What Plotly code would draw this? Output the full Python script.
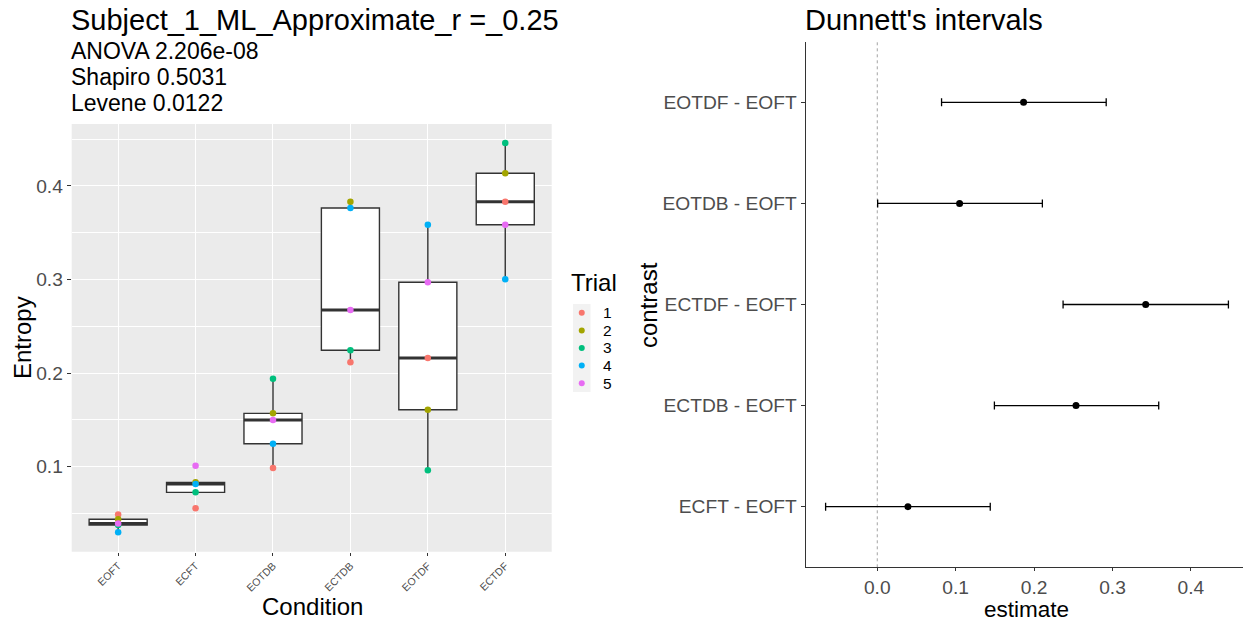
import numpy as np
import plotly.graph_objects as go

W, H = 1243, 623

# ---------------- data ----------------
conditions = ["EOFT", "ECFT", "EOTDB", "ECTDB", "EOTDF", "ECTDF"]
trials = ["1", "2", "3", "4", "5"]
trial_colors = ["#F8766D", "#A3A500", "#00BF7D", "#00B0F6", "#E76BF3"]

entropy_trial1 = [0.0490, 0.0556, 0.0986, 0.2115, 0.2161, 0.3831]
entropy_trial2 = [0.0438, 0.0833, 0.1570, 0.3831, 0.1609, 0.4135]
entropy_trial3 = [0.0378, 0.0726, 0.1940, 0.2244, 0.0962, 0.4458]
entropy_trial4 = [0.0299, 0.0815, 0.1246, 0.3764, 0.3585, 0.3002]
entropy_trial5 = [0.0392, 0.1011, 0.1500, 0.2674, 0.2970, 0.3585]

contrasts = ["ECFT - EOFT", "ECTDB - EOFT", "ECTDF - EOFT", "EOTDB - EOFT", "EOTDF - EOFT"]
estimate = [0.0391, 0.2535, 0.3424, 0.1050, 0.1866]
lower = [-0.0659, 0.1494, 0.2370, 0.0005, 0.0820]
upper = [0.1441, 0.3590, 0.4479, 0.2106, 0.2920]

y_ticks = [0.1, 0.2, 0.3, 0.4]
x_ticks_right = [0.0, 0.1, 0.2, 0.3, 0.4]

FONT = "Liberation Sans, Arial, sans-serif"
GREY30 = "#4D4D4D"
GREY20 = "#333333"


def px(x):
    return x / W


def py(y):
    return 1 - y / H


vals = np.array([entropy_trial1, entropy_trial2, entropy_trial3,
                 entropy_trial4, entropy_trial5])
xpos = np.arange(len(conditions))

q1 = np.percentile(vals, 25, axis=0)
med = np.percentile(vals, 50, axis=0)
q3 = np.percentile(vals, 75, axis=0)
iqr = q3 - q1
lf, uf = [], []
for c in range(len(conditions)):
    col = vals[:, c]
    lf.append(col[col >= q1[c] - 1.5 * iqr[c]].min())
    uf.append(col[col <= q3[c] + 1.5 * iqr[c]].max())

fig = go.Figure()

# boxes
fig.add_trace(go.Box(
    x=list(xpos), q1=list(q1), median=list(med), q3=list(q3),
    lowerfence=lf, upperfence=uf, width=0.75, whiskerwidth=0,
    fillcolor="white", line=dict(color=GREY20, width=1.4),
    boxpoints=False, showlegend=False, hoverinfo="skip",
    xaxis="x", yaxis="y"))

# thick medians
mx, my = [], []
for i, m in zip(xpos, med):
    mx += [i - 0.375, i + 0.375, None]
    my += [m, m, None]
fig.add_trace(go.Scatter(x=mx, y=my, mode="lines",
                         line=dict(color=GREY20, width=3),
                         showlegend=False, hoverinfo="skip",
                         xaxis="x", yaxis="y"))

# points per trial
for t, col, row in zip(trials, trial_colors, vals):
    fig.add_trace(go.Scatter(x=xpos, y=row, mode="markers",
                             marker=dict(color=col, size=6.5),
                             name=t, showlegend=False,
                             xaxis="x", yaxis="y"))

# manual legend keys
fig.add_trace(go.Scatter(x=[0.5] * len(trials), y=[i + 0.5 for i in range(len(trials))],
                         mode="markers", marker=dict(color=trial_colors, size=6),
                         showlegend=False, hoverinfo="skip",
                         xaxis="x3", yaxis="y3"))

# Dunnett intervals
est = np.array(estimate)
fig.add_trace(go.Scatter(
    x=estimate, y=list(range(len(contrasts))), mode="markers",
    marker=dict(color="black", size=7),
    error_x=dict(type="data", symmetric=False,
                 array=list(np.array(upper) - est),
                 arrayminus=list(est - np.array(lower)),
                 color="black", thickness=1.3, width=4),
    showlegend=False, xaxis="x2", yaxis="y2"))

# ---------- layout ----------
LP = dict(x0=71.7, x1=551.7, y0=124, y1=551.7)
RP = dict(x0=805.7, x1=1243, y0=41.7, y1=567.3)
LEG = dict(x0=573, x1=590.5, y0=304, y1=392)

fig.update_layout(
    width=W, height=H, autosize=False,
    margin=dict(l=0, r=0, t=0, b=0),
    paper_bgcolor="white", plot_bgcolor="rgba(0,0,0,0)",
    font=dict(family=FONT, color="black"),
    showlegend=False,
    xaxis=dict(domain=[px(LP["x0"]), px(LP["x1"])], range=[-0.6, 5.6],
               tickmode="array", tickvals=list(xpos), ticktext=conditions,
               tickangle=-45, tickfont=dict(size=10.5, color=GREY30),
               ticks="outside", ticklen=3, tickcolor=GREY20,
               showgrid=True, gridcolor="white", gridwidth=1.3,
               zeroline=False, showline=False, anchor="y"),
    yaxis=dict(domain=[py(LP["y1"]), py(LP["y0"])], range=[0.0092, 0.4661],
               tickmode="array", tickvals=y_ticks,
               ticktext=[f"{v:.1f}" for v in y_ticks],
               tickfont=dict(size=19.2, color=GREY30),
               ticks="outside", ticklen=4, tickcolor=GREY20,
               showgrid=True, gridcolor="white", gridwidth=1.3,
               minor=dict(tickmode="array", tickvals=[0.05, 0.15, 0.25, 0.35, 0.45],
                          showgrid=True, gridcolor="white", gridwidth=0.6, ticks=""),
               zeroline=False, showline=False, anchor="x"),
    xaxis2=dict(domain=[px(RP["x0"]), px(RP["x1"])], range=[-0.0913, 0.4665],
                tickmode="array", tickvals=x_ticks_right,
                ticktext=[f"{v:.1f}" for v in x_ticks_right],
                tickfont=dict(size=19.2, color=GREY30),
                ticks="outside", ticklen=3, tickcolor=GREY20,
                showline=True, linecolor=GREY20, linewidth=1.2,
                showgrid=False, zeroline=False, anchor="y2"),
    yaxis2=dict(domain=[py(RP["y1"]), py(RP["y0"])], range=[-0.6, 4.6],
                tickmode="array", tickvals=list(range(len(contrasts))),
                ticktext=contrasts, tickfont=dict(size=19.2, color=GREY30),
                ticks="outside", ticklen=4, tickcolor=GREY20,
                showline=True, linecolor=GREY20, linewidth=1.2,
                showgrid=False, zeroline=False, anchor="x2"),
    xaxis3=dict(domain=[px(LEG["x0"]), px(LEG["x1"])], range=[0, 1],
                visible=False, fixedrange=True, anchor="y3"),
    yaxis3=dict(domain=[py(LEG["y1"]), py(LEG["y0"])], range=[len(trials), 0],
                visible=False, fixedrange=True, anchor="x3"),
)

shapes = [
    dict(type="rect", xref="x domain", yref="y domain", x0=0, x1=1, y0=0, y1=1,
         fillcolor="#EBEBEB", line=dict(width=0), layer="below"),
    dict(type="rect", xref="x3 domain", yref="y3 domain", x0=0, x1=1, y0=0, y1=1,
         fillcolor="#F2F2F2", line=dict(width=0), layer="below"),
    dict(type="line", xref="x2", yref="y2 domain", x0=0, x1=0, y0=0, y1=1,
         line=dict(color="#8C8C8C", width=0.8, dash="dot"), layer="below"),
]
fig.update_layout(shapes=shapes)

ann = []


def add_text(text, x, y, size, color="black", xanchor="left", angle=0, pad=0):
    ann.append(dict(text=text, x=px(x), y=py(y), xref="paper", yref="paper",
                    xanchor=xanchor, yanchor="middle", showarrow=False,
                    borderpad=pad, textangle=angle,
                    font=dict(size=size, color=color, family=FONT)))


add_text("Subject_1_ML_Approximate_r =_0.25", 70, 20, 29)
add_text("ANOVA 2.206e-08", 70, 51, 23)
add_text("Shapiro 0.5031", 70, 77, 23)
add_text("Levene 0.0122", 70, 103, 23)
add_text("Entropy", 22, 338, 24, xanchor="center", angle=-90)
add_text("Condition", 312, 606, 24, xanchor="center")
add_text("Trial", 570, 282, 24)
leg_step = (LEG["y1"] - LEG["y0"]) / len(trials)
for i, t in enumerate(trials):
    add_text(t, 602, LEG["y0"] + leg_step * (i + 0.5), 15.5)
add_text("Dunnett's intervals", 804, 20, 29)
add_text("contrast", 648, 305, 24, xanchor="center", angle=-90)
add_text("estimate", 1026, 609, 22.5, xanchor="center")
fig.update_layout(annotations=ann)

fig.write_html("out.html")
